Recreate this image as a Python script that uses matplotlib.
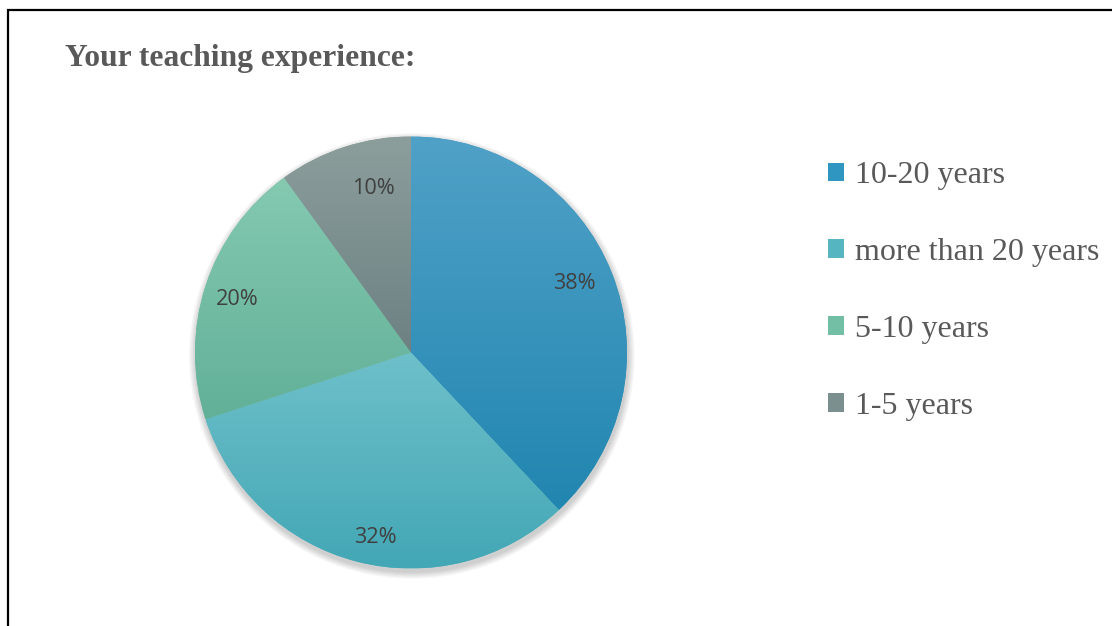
import numpy as np
import matplotlib
matplotlib.use("Agg")
import matplotlib.pyplot as plt
from matplotlib.colors import LinearSegmentedColormap
from matplotlib.patches import Rectangle, Circle, Patch

labels = ["10-20 years", "more than 20 years", "5-10 years", "1-5 years"]
shares = [38, 32, 20, 10]
top_colors = ["#50A1C7", "#6EC0CA", "#85C9B1", "#8C9E9C"]
bottom_colors = ["#2186B0", "#43A7B5", "#62B098", "#6D8183"]
mid_colors = ["#2F95C1", "#55B6C2", "#72BFA5", "#7B8F8F"]
# where the percentage labels sit (fraction of radius, degrees off slice middle)
label_radius = [0.82, 0.87, 0.84, 0.78]
label_turn = [1.5, 3.5, 1.0, -5.0]

W, H = 1112, 626
fig = plt.figure(figsize=(W / 100, H / 100), dpi=100)
fig.patch.set_facecolor("white")

# border (only left and top visible in the crop)
fig.patches.append(Rectangle((8 / W, -0.2), 2, 1.2 - 10 / H, transform=fig.transFigure,
                             fill=False, edgecolor="black", linewidth=1.6))

fig.text(65 / W, 1 - 66 / H, "Your teaching experience:", fontsize=22.7, fontweight="bold",
         family="Liberation Serif", color="#595959", va="baseline", ha="left")

cx, cy, r = 411, 352.5, 216
ax = fig.add_axes([(cx - r) / W, (H - cy - r) / H, 2 * r / W, 2 * r / H])

# soft shadow, mostly below the pie
for i in range(8):
    ax.add_patch(Circle((0.004, -0.016), 1.0 + 0.004 * (i + 1), facecolor="black",
                        edgecolor="none", alpha=0.025, zorder=0, clip_on=False))

wedges, texts = ax.pie(shares, colors=mid_colors, startangle=90, counterclock=False,
                       wedgeprops=dict(linewidth=0, edgecolor="none"))

grad = np.linspace(0, 1, 256).reshape(-1, 1)
for w, c0, c1 in zip(wedges, top_colors, bottom_colors):
    path = w.get_patch_transform().transform_path(w.get_path())
    ext = path.get_extents()
    cmap = LinearSegmentedColormap.from_list("g", [c1, c0])
    im = ax.imshow(grad, cmap=cmap, extent=[ext.x0, ext.x1, ext.y0, ext.y1], origin="lower",
                   aspect="auto", zorder=w.get_zorder() + 0.5, interpolation="bilinear")
    im.set_clip_path(w)

for w, v, lr, turn in zip(wedges, shares, label_radius, label_turn):
    ang = np.deg2rad((w.theta1 + w.theta2) / 2 + turn)
    ax.text(lr * np.cos(ang), lr * np.sin(ang), f"{v}%", ha="center", va="center",
            family="Open Sans", fontsize=15.6, color="#404040", zorder=5)

ax.set_xlim(-1, 1)
ax.set_ylim(-1, 1)
ax.set_aspect("equal")
ax.axis("off")

handles = [Patch(facecolor=c, edgecolor="none") for c in mid_colors]
fig.legend(handles, labels, loc="upper left", bbox_to_anchor=(828 / W, 1 - 161 / H),
           frameon=False, borderpad=0, borderaxespad=0,
           prop=dict(family="Liberation Serif", size=23), labelcolor="#595959",
           handlelength=0.5, handleheight=0.5, handletextpad=0.35, labelspacing=1.5)

fig.savefig("out.png", dpi=100, facecolor="white")
